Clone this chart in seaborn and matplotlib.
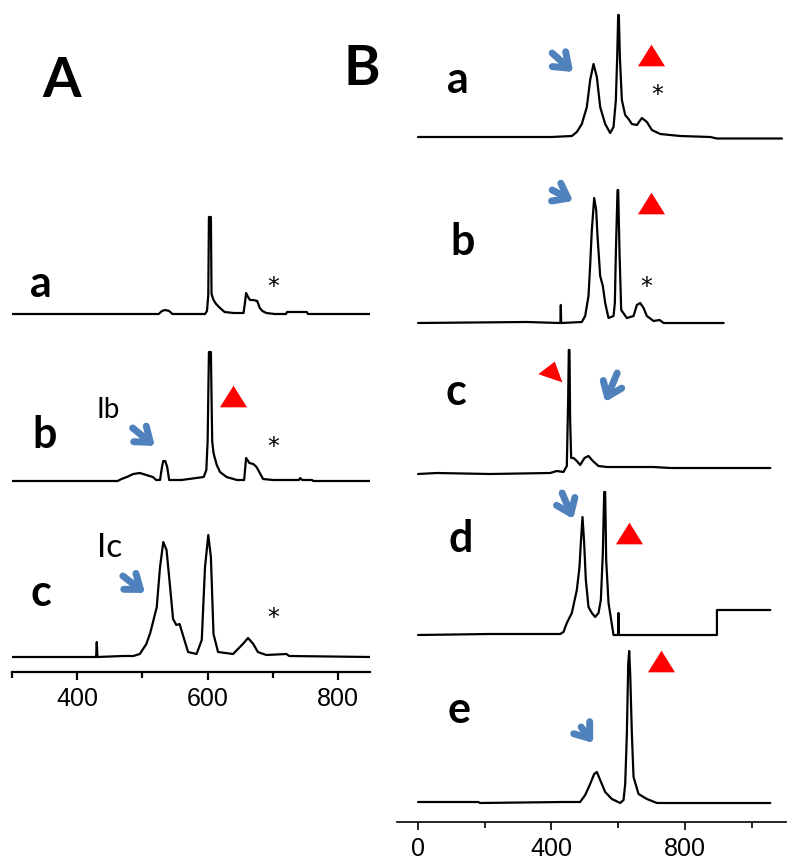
"""
Two-panel stacked emission spectra (A: three traces, B: five traces)
"""
import numpy as np
import matplotlib
matplotlib.use('Agg')
import matplotlib.pyplot as plt
import seaborn as sns

# ---- data (x = wavelength, y = intensity, a.u.) ----
A_a_x = [300, 525, 530, 535, 541, 546, 596, 599, 601, 602, 605, 606, 609, 613, 619, 626, 640, 655,
         657, 659, 662, 665, 670, 676, 680, 684, 690, 703, 720, 722, 752, 754, 849]
A_a_y = [0, 0, 3, 4, 3, 0, 0, 3, 19, 97, 97, 20, 14, 10, 6, 2, 1, 1,
         10, 21, 17, 14, 14, 13, 6, 3, 1, 0, 0, 2, 2, 0, 0]

A_b_x = [300, 462, 468, 476, 486, 496, 506, 516, 521, 527, 530, 532, 535, 538, 541, 560, 594, 598,
         600, 602, 605, 607, 609, 614, 619, 629, 645, 656, 659, 664, 670, 675, 680, 685, 700,
         740, 742, 745, 760, 762, 849]
A_b_y = [0, 0, 2, 4, 7, 8, 6, 4, 1, 1, 14, 20, 20, 14, 1, 1, 4, 11,
         40, 129, 129, 40, 28, 16, 9, 4, 1, 1, 23, 18, 17, 14, 8, 2, 1,
         1, 3, 1, 1, 0, 0]

A_c_x = [300, 429, 430, 431, 470, 486, 496, 506, 512, 517, 522, 527, 532, 537, 542, 547, 552, 557,
         563, 570, 583, 591, 596, 601, 605, 609, 616, 639, 654, 662, 670, 677, 690, 721, 725, 849]
A_c_y = [0, 0, 15, 0, 1, 1, 3, 13, 24, 37, 50, 90, 115, 107, 73, 38, 32, 33,
         20, 5, 3, 17, 90, 122, 100, 23, 5, 3, 13, 19, 13, 5, 2, 3, 1, 0]

B_a_x = [0, 200, 400, 461, 476, 491, 506, 516, 526, 536, 546, 561, 576, 586, 593, 597, 600, 602,
         605, 611, 621, 631, 641, 656, 671, 686, 701, 726, 786, 876, 896, 1000, 1091]
B_a_y = [0, 0, 0, 1, 5, 13, 30, 57, 73, 60, 30, 13, 4, 10, 37, 80, 122, 122,
         80, 37, 22, 18, 13, 12, 19, 15, 7, 3, 1, 0, -1.5, -1.5, -1.5]

B_b_x = [0, 326, 426, 427, 428, 429, 430, 491, 501, 511, 516, 521, 528, 534, 538, 546, 554, 561,
         571, 586, 590, 593, 598, 600, 604, 609, 626, 646, 656, 666, 676, 686, 706, 724, 736, 916]
B_b_y = [0, 1, 0, 0, 18, 0, 0, 1, 7, 27, 58, 93, 125, 113, 87, 47, 37, 20,
         5, 7, 20, 70, 133, 133, 70, 13, 5, 7, 18, 20, 15, 7, 2, 3, 0, 0]

B_c_x = [0, 56, 216, 396, 416, 436, 446, 450, 452, 454, 456, 459, 466, 476, 486, 499, 511, 524,
         541, 566, 616, 706, 756, 1056]
B_c_y = [-1, 0, -1, 0, 2, 1, 7, 73, 123, 123, 53, 15, 15, 12, 8, 15, 17, 12,
         7, 6, 6, 6, 5, 5]

B_d_x = [0, 216, 426, 436, 446, 461, 476, 484, 488, 493, 498, 503, 511, 521, 531, 541, 548, 554,
         558, 561, 564, 571, 579, 586, 600, 601, 602, 896, 896, 960, 1056]
B_d_y = [0, 1, 1, 3, 12, 22, 45, 68, 92, 118, 92, 55, 28, 22, 18, 22, 35, 82,
         143, 143, 75, 32, 15, 0, 0, 22, 0, 0, 25, 25, 25]

B_e_x = [0, 181, 186, 436, 486, 501, 516, 528, 536, 546, 561, 581, 606, 616, 621, 626, 630, 633,
         636, 641, 646, 661, 686, 716, 1056]
B_e_y = [1, 1, 0, 1, 1, 8, 19, 29, 31, 23, 11, 4, 0, 3, 19, 69, 139, 152,
         129, 69, 26, 9, 4, 0, 0]

row_names_A = ['a', 'b', 'c']
row_names_B = ['a', 'b', 'c', 'd', 'e']
ticks_A = [400, 600, 800]
ticks_B = [0, 400, 800]

# ---- layout (vertical offsets of each trace, marker spots) ----
offsets_A = [358, 191, 15]
offsets_B = [685, 499, 349, 187, 19]

BLUE = '#4f81bd'
RED = '#ff0000'

sns.set_style('ticks')
plt.rcParams['font.family'] = ['Liberation Sans', 'DejaVu Sans']
plt.rcParams['text.color'] = 'black'
plt.rcParams['axes.edgecolor'] = 'black'

fig = plt.figure(figsize=(8, 8.67), dpi=100)
axA = fig.add_axes([12 / 800, 1 - 672 / 867, 358 / 800, 472 / 867])
axB = fig.add_axes([397 / 800, 1 - 822 / 867, 389 / 800, 822 / 867])


def draw_traces(ax, traces, offsets):
    for (xs, ys), off in zip(traces, offsets):
        sns.lineplot(x=xs, y=np.array(ys) + off, ax=ax, color='black', lw=1.6,
                     estimator=None, sort=False)


draw_traces(axA, [(A_a_x, A_a_y), (A_b_x, A_b_y), (A_c_x, A_c_y)], offsets_A)
draw_traces(axB, [(B_a_x, B_a_y), (B_b_x, B_b_y), (B_c_x, B_c_y),
                  (B_d_x, B_d_y), (B_e_x, B_e_y)], offsets_B)

axA.set_xlim(300, 849)
axA.set_ylim(0, 472)
axB.set_xlim(-63, 1103)
axB.set_ylim(0, 822)

for ax, ticks, minor, lw in [(axA, ticks_A, [300, 500, 700], 1.6), (axB, ticks_B, [200, 600, 1000], 1.2)]:
    sns.despine(ax=ax, left=True)
    ax.set_yticks([])
    ax.set_xticks(ticks)
    ax.set_xticks(minor, minor=True)
    ax.spines['bottom'].set_linewidth(lw)
    ax.tick_params(axis='x', which='major', direction='out', length=6, width=lw,
                   labelsize=18, pad=5, colors='black')
    ax.tick_params(axis='x', which='minor', direction='out', length=4, width=lw, colors='black')
    ax.set_xlabel('')
    ax.patch.set_alpha(0)

# row labels
lab_font = dict(family=['Lato', 'DejaVu Sans'], fontweight='bold', fontsize=31,
                ha='left', va='baseline')
for name, (x, y) in zip(row_names_A, [(328, 375), (331, 224), (328, 66)]):
    axA.text(x, y, name, **lab_font)
for name, (x, y) in zip(row_names_B, [(87, 729), (96, 567), (81, 417), (90, 270), (90, 99)]):
    axB.text(x, y, name, **lab_font)

fig.text(42 / 800, 1 - 97 / 867, 'A', family=['Lato', 'DejaVu Sans'], fontweight='bold',
         fontsize=40, ha='left', va='baseline')
fig.text(343 / 800, 1 - 85 / 867, 'B', family=['Lato', 'DejaVu Sans'], fontweight='bold',
         fontsize=40, ha='left', va='baseline')

axA.text(430, 254, 'Ib', family=['Lato', 'DejaVu Sans'], fontsize=20, ha='left', va='baseline')
axA.text(430, 115, 'Ic', family=['Lato', 'DejaVu Sans'], fontsize=24, ha='left', va='baseline')

# asterisks
for ax, pts in [(axA, [(700, 385), (700, 225), (700, 54)]), (axB, [(717, 727), (684, 535)])]:
    for x, y in pts:
        ax.text(x, y, '*', family='DejaVu Sans', fontsize=17, ha='center', va='center')

# blue arrows
arrow_kw = dict(arrowstyle='->,head_length=0.6,head_width=0.45', lw=5, color=BLUE,
                shrinkA=0, shrinkB=0, mutation_scale=16)
for ax, arrows in [(axA, [((485, 244), (519, 226)), ((470, 96), (504, 79))]),
                   (axB, [((402, 769), (465, 750)), ((402, 632), (465, 621)),
                          ((597, 449), (561, 420)), ((432, 329), (465, 303)),
                          ((489, 95), (525, 79))])]:
    for tail, head in arrows:
        ax.annotate('', xy=head, xytext=tail, arrowprops=arrow_kw, annotation_clip=False)

# red triangles
tri_up = [(-1, -0.8), (1, -0.8), (0, 0.8)]
tri_left = [(-1, -0.125), (0.25, 0.825), (0.825, -0.75)]
axA.scatter([639], [276], marker=tri_up, s=380, color=RED, lw=0, clip_on=False)
axB.scatter([699, 699, 633, 729], [767, 619, 289, 161], marker=tri_up, s=380,
            color=RED, lw=0, clip_on=False)
axB.scatter([400], [450], marker=tri_left, s=361, color=RED, lw=0, clip_on=False)

fig.savefig('out.png', dpi=100)
